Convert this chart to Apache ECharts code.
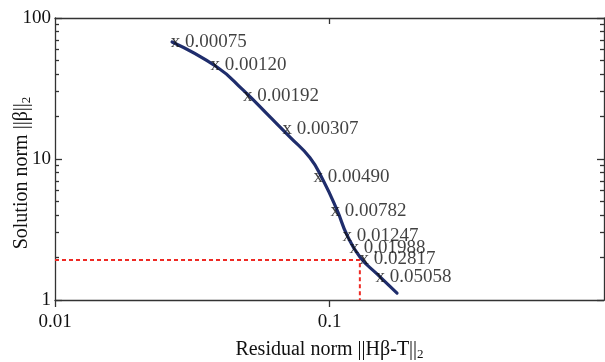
<!DOCTYPE html>
<html>
<head>
<meta charset="utf-8">
<script src="https://cdn.jsdelivr.net/npm/echarts@6/dist/echarts.min.js"></script>
<style>
  html, body { margin: 0; padding: 0; background: #fff; }
  #chart { width: 605px; height: 362px; }
</style>
</head>
<body>
<div id="chart"></div>
<script>
// L-curve: residual norm vs solution norm (log-log)
const curveResidual = [0.0267, 0.0389, 0.0484, 0.0607, 0.0718, 0.0849, 0.0947, 0.1065, 0.1158, 0.1291, 0.1489, 0.1762]
const curveSolution = [67.6, 44.9, 30.9, 19.9, 14.3, 10.2, 7.10, 4.35, 2.89, 2.02, 1.53, 1.12]

// regularization parameters marked on the curve
const lambdaLabels = ['0.00075', '0.00120', '0.00192', '0.00307', '0.00490', '0.00782', '0.01247', '0.01988', '0.02817', '0.05058']
const lambdaResidual = [0.0274, 0.0383, 0.0503, 0.070, 0.0908, 0.1047, 0.1158, 0.1228, 0.1335, 0.1528]
const lambdaSolution = [66.5, 45.7, 27.5, 16.1, 7.33, 4.21, 2.80, 2.30, 1.92, 1.43]

// chosen corner
const cornerResidual = 0.129
const cornerSolution = 1.92

const xMajorTicks = [0.01, 0.1, 1]
const yMajorTicks = [1, 10, 100]
const yMinorTicks = [2, 3, 4, 5, 6, 7, 8, 9, 20, 30, 40, 50, 60, 70, 80, 90]

const FONT = '"Liberation Serif", "Times New Roman", serif'
const AXIS_COLOR = '#333'
const TEXT_COLOR = '#111'

const chart = echarts.init(document.getElementById('chart'))

const hidden = { show: false }
const lineStyle = { color: AXIS_COLOR, width: 1.3 }

chart.setOption({
  animation: false,
  grid: { left: 55, right: 1, top: 18, bottom: 62, containLabel: false, outerBoundsMode: 'none' },
  xAxis: [
    {
      type: 'log', logBase: 10, min: 0.01, max: 1, position: 'bottom',
      name: 'Residual norm ||Hβ-T||{sub|2}',
      nameLocation: 'middle',
      nameGap: 38,
      nameMoveOverlap: false,
      nameTextStyle: {
        fontFamily: FONT, fontSize: 20, color: TEXT_COLOR,
        rich: { sub: { fontFamily: FONT, fontSize: 13, color: TEXT_COLOR, padding: [10, 0, 0, 0] } }
      },
      axisLine: { lineStyle },
      axisTick: { inside: false, length: 7, customValues: xMajorTicks, lineStyle },
      axisLabel: { fontFamily: FONT, fontSize: 19, color: TEXT_COLOR, margin: 13, showMaxLabel: false },
      splitLine: hidden
    },
    {
      type: 'log', logBase: 10, min: 0.01, max: 1, position: 'top',
      axisLine: { lineStyle },
      axisTick: { inside: true, length: 6, customValues: [0.1], lineStyle },
      axisLabel: hidden,
      splitLine: hidden
    }
  ],
  yAxis: [
    {
      type: 'log', logBase: 10, min: 1, max: 100, position: 'left',
      name: 'Solution norm ||β||{sub|2}',
      nameLocation: 'middle',
      nameGap: 22,
      nameMoveOverlap: false,
      nameTextStyle: {
        fontFamily: FONT, fontSize: 20, color: TEXT_COLOR,
        padding: [0, 28, 0, 0],
        rich: { sub: { fontFamily: FONT, fontSize: 13, color: TEXT_COLOR, padding: [10, 0, 0, 0] } }
      },
      axisLine: { lineStyle },
      axisTick: { inside: true, length: 7, customValues: yMajorTicks, lineStyle },
      axisLabel: { fontFamily: FONT, fontSize: 19, color: TEXT_COLOR, margin: 4 },
      splitLine: hidden
    },
    {
      type: 'log', logBase: 10, min: 1, max: 100, position: 'left',
      axisLine: hidden,
      axisTick: { inside: true, length: 4, customValues: yMinorTicks, lineStyle },
      axisLabel: hidden,
      splitLine: hidden
    },
    {
      type: 'log', logBase: 10, min: 1, max: 100, position: 'right',
      axisLine: { lineStyle },
      axisTick: { inside: true, length: 7, customValues: yMajorTicks, lineStyle },
      axisLabel: hidden,
      splitLine: hidden
    },
    {
      type: 'log', logBase: 10, min: 1, max: 100, position: 'right',
      axisLine: hidden,
      axisTick: { inside: true, length: 4, customValues: yMinorTicks, lineStyle },
      axisLabel: hidden,
      splitLine: hidden
    }
  ],
  series: [
    {
      type: 'line',
      data: [[0.01, cornerSolution], [cornerResidual, cornerSolution], [cornerResidual, 1]],
      symbol: 'none',
      lineStyle: { color: '#ee2a24', width: 2, type: [4, 3] },
      z: 2
    },
    {
      type: 'line',
      data: curveResidual.map((r, i) => [r, curveSolution[i]]),
      smooth: 0.5,
      symbol: 'none',
      lineStyle: { color: '#1f2d6c', width: 3.2, cap: 'round' },
      z: 3
    },
    {
      type: 'scatter',
      data: lambdaResidual.map((r, i) => [r, lambdaSolution[i], lambdaLabels[i]]),
      symbolSize: 1,
      itemStyle: { color: 'rgba(0,0,0,0)' },
      label: {
        show: true,
        position: 'right',
        distance: -5,
        offset: [0, -1],
        fontFamily: FONT,
        fontSize: 19,
        color: TEXT_COLOR,
        formatter: (p) => 'x ' + p.value[2]
      },
      z: 4
    }
  ]
})
</script>
</body>
</html>
